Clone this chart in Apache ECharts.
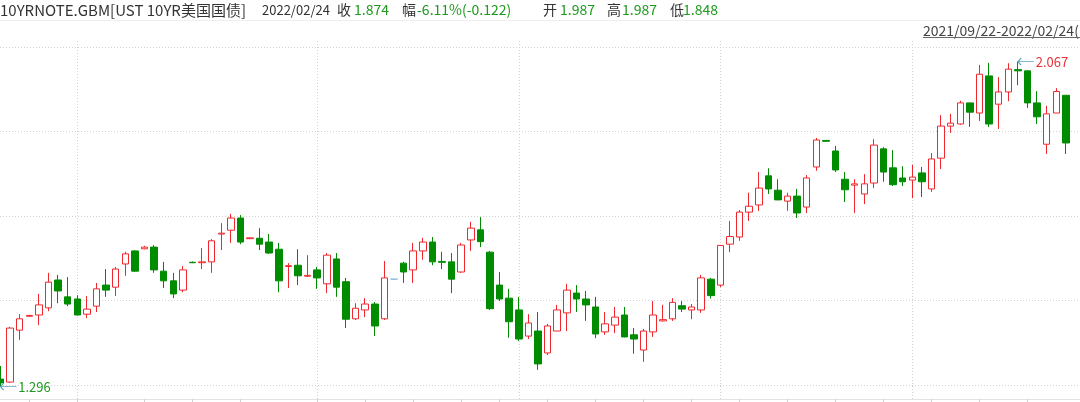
<!DOCTYPE html>
<html><head><meta charset="utf-8">
<script src="https://cdn.jsdelivr.net/npm/echarts@6/dist/echarts.min.js"></script>
<style>html,body{margin:0;padding:0;background:#fff}#c{width:1080px;height:402px}</style>
</head><body><div id="c"></div>
<script>
// ---- categories (trading days) ----
const monthDays = {
  '2021/09': [22,23,24,27,28,29,30],
  '2021/10': [1,4,5,6,7,8,11,12,13,14,15,18,19,20,21,22,25,26,27,28,29],
  '2021/11': [1,2,3,4,5,8,9,10,11,12,15,16,17,18,19,22,23,24,25,26,29,30],
  '2021/12': [1,2,3,6,7,8,9,10,13,14,15,16,17,20,21,22,23,24,27,28,29,30,31],
  '2022/01': [3,4,5,6,7,10,11,12,13,14,17,18,19,20,21,24,25,26,27,28,31],
  '2022/02': [1,2,3,4,7,8,9,10,11,14,15,16,17,18,21,22,23,24]
};
const dates = [];
Object.keys(monthDays).forEach(m => monthDays[m].forEach(d => dates.push(m + '/' + String(d).padStart(2, '0'))));

// ---- series values ----
const opens = [1.314,1.307,1.430,1.463,1.466,1.483,1.549,1.509,1.504,1.468,1.487,1.537,1.532,1.587,1.618,1.623,1.627,1.570,1.547,1.525,
1.591,1.590,1.592,1.658,1.667,1.696,1.647,1.648,1.639,1.622,1.581,1.584,1.558,1.573,1.540,1.599,1.545,1.457,1.478,1.492,
1.457,1.551,1.589,1.573,1.618,1.639,1.593,1.592,1.568,1.644,1.668,1.615,1.537,1.506,1.478,1.416,1.428,1.376,1.428,1.471,
1.518,1.504,1.485,1.426,1.442,1.466,1.419,1.383,1.426,1.452,1.457,1.488,1.478,1.478,1.551,1.537,1.634,1.651,1.710,1.727,
1.796,1.762,1.736,1.748,1.722,1.817,1.880,1.855,1.788,1.774,1.753,1.779,1.860,1.815,1.791,1.786,1.803,1.765,1.838,1.914,
1.919,1.969,1.945,2.033,1.966,1.995,2.048,2.045,1.969,1.871,1.945,1.987];
const closes = [1.305,1.435,1.457,1.465,1.490,1.544,1.523,1.492,1.466,1.480,1.528,1.525,1.575,1.611,1.570,1.627,1.573,1.547,1.516,1.573,
1.590,1.592,1.642,1.660,1.696,1.639,1.649,1.634,1.613,1.547,1.583,1.559,1.560,1.554,1.608,1.532,1.456,1.482,1.492,1.440,
1.554,1.551,1.568,1.618,1.639,1.592,1.591,1.551,1.632,1.672,1.640,1.481,1.504,1.450,1.409,1.447,1.350,1.440,1.478,1.525,
1.504,1.490,1.421,1.445,1.461,1.414,1.409,1.428,1.466,1.455,1.496,1.480,1.485,1.554,1.512,1.631,1.652,1.710,1.724,1.767,
1.765,1.739,1.748,1.708,1.791,1.881,1.878,1.810,1.763,1.777,1.777,1.869,1.805,1.775,1.782,1.793,1.782,1.836,1.914,1.921,
1.969,1.947,2.037,1.919,1.995,2.049,2.045,1.969,1.936,1.943,1.996,1.874];
const lows = [1.296,1.305,1.407,1.462,1.442,1.475,1.494,1.487,1.465,1.459,1.473,1.509,1.511,1.559,1.568,1.622,1.566,1.530,1.506,1.520,
1.589,1.575,1.566,1.620,1.637,1.634,1.646,1.620,1.611,1.520,1.530,1.537,1.556,1.528,1.518,1.509,1.435,1.454,1.461,1.416,
1.454,1.550,1.542,1.542,1.597,1.584,1.575,1.518,1.566,1.618,1.627,1.478,1.499,1.412,1.404,1.409,1.336,1.371,1.428,1.428,
1.473,1.452,1.411,1.419,1.423,1.413,1.374,1.355,1.414,1.451,1.452,1.473,1.456,1.471,1.505,1.532,1.615,1.642,1.689,1.713,
1.753,1.738,1.713,1.696,1.708,1.808,1.877,1.805,1.734,1.708,1.729,1.767,1.782,1.772,1.772,1.743,1.746,1.758,1.812,1.898,
1.917,1.912,1.926,1.912,1.907,1.973,2.011,1.957,1.919,1.848,1.945,1.848];
const highs = [1.345,1.438,1.468,1.466,1.516,1.566,1.561,1.556,1.513,1.511,1.542,1.575,1.580,1.616,1.620,1.630,1.632,1.592,1.566,1.582,
1.593,1.625,1.646,1.684,1.706,1.703,1.650,1.672,1.658,1.637,1.589,1.622,1.608,1.580,1.613,1.613,1.554,1.494,1.506,1.497,
1.594,1.552,1.592,1.637,1.649,1.651,1.616,1.613,1.637,1.687,1.698,1.618,1.568,1.528,1.509,1.468,1.473,1.445,1.490,1.540,
1.537,1.523,1.509,1.473,1.485,1.485,1.435,1.433,1.499,1.490,1.506,1.499,1.492,1.561,1.554,1.632,1.689,1.715,1.756,1.805,
1.814,1.788,1.756,1.765,1.798,1.886,1.881,1.867,1.805,1.788,1.800,1.883,1.864,1.857,1.819,1.822,1.817,1.850,1.940,1.943,
1.974,1.969,2.059,2.064,2.030,2.063,2.067,2.045,1.997,1.962,2.004,1.987];

// ---- axis ticks / grid positions ----
const yGridTicks = [1.3, 1.5, 1.7, 1.9, 2.1];
const vGridIdx = [8, 33, 54, 75, 95];
const xTickIdx = [3, 8, 15, 20, 25, 33, 38, 43, 48, 52, 57, 62, 67, 72, 77, 82, 87, 92, 97, 102, 107];

const kData = dates.map((d, i) => [opens[i], closes[i], lows[i], highs[i]]);
const n = dates.length;
let hiI = 0, loI = 0;
highs.forEach((v, i) => { if (v > highs[hiI]) hiI = i; });
lows.forEach((v, i) => { if (v < lows[loI]) loI = i; });

const last = n - 1;
const chg = closes[last] - closes[last - 1];
const pct = chg / closes[last - 1] * 100;
const F = '"Noto Sans CJK SC", "Noto Sans", sans-serif';
const DARK = '#333333', GREEN = '#1f9a1f', RED = '#e8313a';
const hdr = [
  [0, '10YRNOTE.GBM[UST 10YR美国国债]', DARK, 15],
  [262, dates[last], DARK, 13],
  [337, '收', DARK, 14], [354, closes[last].toFixed(3), GREEN, 14],
  [402, '幅', DARK, 14], [417, pct.toFixed(2) + '%(' + chg.toFixed(3) + ')', GREEN, 14],
  [543, '开', DARK, 14], [560, opens[last].toFixed(3), GREEN, 14],
  [607, '高', DARK, 14], [622, highs[last].toFixed(3), GREEN, 14],
  [670, '低', DARK, 14], [683, lows[last].toFixed(3), GREEN, 14]
];
const graphics = hdr.map(h => ({
  type: 'text', x: h[0], y: 10,
  style: { text: h[1], fill: h[2], fontSize: h[3], fontFamily: F, verticalAlign: 'middle' }
}));
graphics.push({ type: 'line', shape: { x1: 0, y1: 20.5, x2: 1080, y2: 20.5 }, style: { stroke: '#eeeeee', lineWidth: 1 } });
graphics.push({ type: 'text', x: 923, y: 31, style: { text: dates[0] + '-' + dates[last] + '(', fill: '#444', fontSize: 14, fontFamily: F, verticalAlign: 'middle' } });
graphics.push({ type: 'line', shape: { x1: 923, y1: 37.5, x2: 1080, y2: 37.5 }, style: { stroke: '#666', lineWidth: 1 } });

const arrowPath = 'path://M0,4L4,0M0,4L4,8M0,4L20,4';
const chart = echarts.init(document.getElementById('c'), null, { renderer: 'canvas' });
chart.setOption({
  animation: false,
  backgroundColor: '#fff',
  graphic: graphics,
  grid: [
    { left: -4.3, width: 1075, top: 41, height: 358, outerBoundsMode: 'none', containLabel: false },
    { left: 0, right: 0, top: 47.3, height: 337.7, outerBoundsMode: 'none' },
    { left: 0, right: 0, top: 41, height: 358, outerBoundsMode: 'none' }
  ],
  xAxis: [
    {
      type: 'category', data: dates, gridIndex: 0, boundaryGap: true,
      axisLine: { lineStyle: { color: '#e2e2e2' } },
      axisTick: { show: true, alignWithLabel: true, length: 3, interval: (i) => xTickIdx.includes(i), lineStyle: { color: '#d0d0d0' } },
      axisLabel: { show: false },
      splitLine: { show: true, alignWithLabel: true, interval: (i) => vGridIdx.includes(i), lineStyle: { color: '#d2d2d2', type: [1, 2] } }
    },
    { type: 'value', gridIndex: 1, show: false },
    { type: 'value', gridIndex: 2, position: 'top', axisLine: { show: true, lineStyle: { color: '#ececec' } }, axisTick: { show: false }, axisLabel: { show: false }, splitLine: { show: false } },
    { type: 'value', gridIndex: 2, position: 'bottom', axisLine: { show: true, lineStyle: { color: '#e2e2e2' } }, axisTick: { show: false }, axisLabel: { show: false }, splitLine: { show: false } }
  ],
  yAxis: [
    { type: 'value', gridIndex: 0, min: 1.2668, max: 2.1158, axisLine: { show: false }, axisTick: { show: false }, axisLabel: { show: false }, splitLine: { show: false } },
    { type: 'value', gridIndex: 1, min: yGridTicks[0], max: yGridTicks[yGridTicks.length - 1], interval: 0.2, axisLine: { show: false }, axisTick: { show: false }, axisLabel: { show: false },
      splitLine: { show: true, lineStyle: { color: '#d2d2d2', type: [1, 2] } } },
    { type: 'value', gridIndex: 2, show: false }
  ],
  series: [{
    type: 'candlestick', xAxisIndex: 0, yAxisIndex: 0, data: kData, barWidth: 7, clip: false,
    itemStyle: { color: '#ffffff', color0: '#008c00', borderColor: '#f0282d', borderColor0: '#008c00', borderColorDoji: '#8cbbd9', borderWidth: 1 },
    markPoint: {
      symbol: arrowPath, symbolSize: [16, 7], symbolOffset: [8, 0], silent: true,
      itemStyle: { color: 'rgba(0,0,0,0)', borderColor: '#5fa3c0', borderWidth: 1 },
      label: { show: true, position: 'right', distance: 1, fontSize: 13, fontFamily: F },
      data: [
        { coord: [hiI, highs[hiI]], value: highs[hiI], label: { color: RED, formatter: highs[hiI].toFixed(3) } },
        { coord: [loI, lows[loI]], value: lows[loI], label: { color: GREEN, formatter: lows[loI].toFixed(3) } }
      ]
    }
  }]
});
</script></body></html>
